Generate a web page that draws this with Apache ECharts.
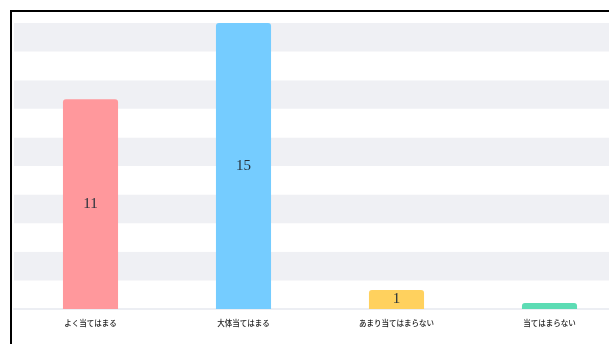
<!DOCTYPE html>
<html>
<head>
<meta charset="utf-8">
<script src="https://cdn.jsdelivr.net/npm/echarts@6/dist/echarts.min.js"></script>
<style>
  html, body { margin: 0; padding: 0; background: #fff; overflow: hidden; }
  #box {
    position: absolute; left: 10px; top: 10px;
    width: 620px; height: 360px;
    border: 2px solid #000;
  }
</style>
</head>
<body>
<div id="box"></div>
<script>
// 回答の選択肢
var categories = ['よく当てはまる', '大体当てはまる', 'あまり当てはまらない', '当てはまらない'];
var counts = [11, 15, 1, 0];
var barColors = ['#ff989c', '#75ccff', '#ffd15e', '#5cdcb4'];

var chart = echarts.init(document.getElementById('box'), null, { renderer: 'canvas' });

var option = {
  animation: false,
  grid: { left: 2, right: 6, top: 11, bottom: 63 },
  xAxis: {
    type: 'category',
    data: categories,
    axisTick: { show: false },
    axisLine: { lineStyle: { color: '#eceef3', width: 2 } },
    axisLabel: {
      color: '#222',
      fontSize: 7.5,
      fontWeight: 500,
      fontFamily: 'Noto Sans CJK JP',
      margin: 10
    }
  },
  yAxis: {
    type: 'value',
    min: 0,
    max: 15,
    interval: 1.5,
    axisLabel: { show: false },
    axisLine: { show: false },
    axisTick: { show: false },
    splitLine: { show: false },
    splitArea: { show: true, areaStyle: { color: ['#ffffff', '#eff0f4'] } }
  },
  series: [{
    type: 'bar',
    barWidth: '36%',
    barMinHeight: 6,
    data: counts.map(function (v, i) {
      return { value: v, itemStyle: { color: barColors[i], borderRadius: [3, 3, 0, 0] } };
    }),
    label: {
      show: true,
      position: 'inside',
      color: '#26313a',
      fontSize: 15,
      fontFamily: 'Liberation Serif, serif',
      formatter: function (p) { return p.value ? p.value : ''; }
    }
  }]
};

chart.setOption(option);
</script>
</body>
</html>
